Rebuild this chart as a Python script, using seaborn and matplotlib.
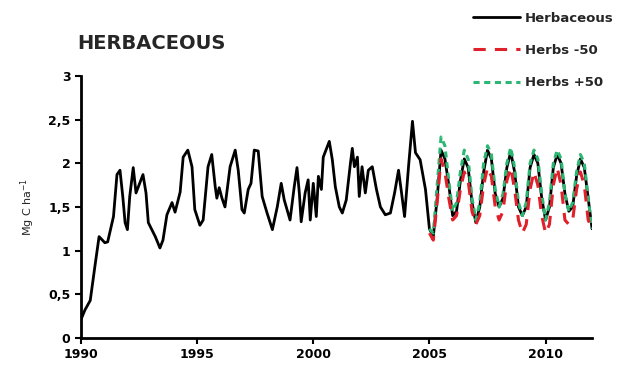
import numpy as np
import pandas as pd
import seaborn as sns
import matplotlib
matplotlib.use('Agg')
import matplotlib.pyplot as plt
from matplotlib.ticker import FuncFormatter

# Herbaceous carbon, traced 1990-2004.9 (year, Mg C/ha)
hist_years = [1990.0, 1990.17, 1990.4, 1990.6, 1990.78, 1991.03, 1991.15, 1991.4, 1991.55,
              1991.68, 1991.8, 1991.9, 1992.0, 1992.1, 1992.25, 1992.37, 1992.54, 1992.67,
              1992.8, 1992.9, 1993.2, 1993.4, 1993.53, 1993.7, 1993.92, 1994.05, 1994.27,
              1994.4, 1994.6, 1994.78, 1994.9, 1995.12, 1995.26, 1995.47, 1995.63, 1995.78,
              1995.85, 1995.95, 1996.07, 1996.2, 1996.42, 1996.64, 1996.77, 1996.93, 1997.03,
              1997.2, 1997.32, 1997.46, 1997.63, 1997.8, 1998.0, 1998.24, 1998.45, 1998.62,
              1998.75, 1999.0, 1999.18, 1999.3, 1999.4, 1999.48, 1999.65, 1999.78, 1999.87,
              2000.0, 2000.13, 2000.22, 2000.35, 2000.43, 2000.69, 2000.82, 2000.95, 2001.12,
              2001.25, 2001.42, 2001.6, 2001.68, 2001.77, 2001.9, 2001.98, 2002.1, 2002.24,
              2002.37, 2002.54, 2002.72, 2002.89, 2003.1, 2003.32, 2003.5, 2003.67, 2003.8,
              2003.93, 2004.1, 2004.27, 2004.4, 2004.6, 2004.83]
hist_vals = [0.21, 0.32, 0.43, 0.82, 1.16, 1.09, 1.10, 1.39, 1.87,
             1.92, 1.62, 1.32, 1.24, 1.62, 1.95, 1.66, 1.78, 1.87,
             1.66, 1.32, 1.16, 1.03, 1.12, 1.41, 1.55, 1.44, 1.67,
             2.07, 2.15, 1.96, 1.47, 1.29, 1.35, 1.96, 2.10, 1.73,
             1.60, 1.72, 1.60, 1.50, 1.96, 2.15, 1.92, 1.47, 1.43,
             1.70, 1.77, 2.15, 2.14, 1.62, 1.44, 1.24, 1.50, 1.77,
             1.58, 1.35, 1.73, 1.95, 1.66, 1.33, 1.66, 1.81, 1.35,
             1.77, 1.39, 1.85, 1.70, 2.07, 2.25, 2.04, 1.73, 1.50,
             1.43, 1.58, 2.00, 2.17, 1.96, 2.07, 1.62, 1.96, 1.66,
             1.92, 1.96, 1.70, 1.50, 1.41, 1.43, 1.66, 1.92, 1.66,
             1.39, 1.96, 2.48, 2.12, 2.04, 1.70]

# Scenario period, bimonthly steps 2005-2012
scen_years = [2005 + i / 6 for i in range(43)]
herb_base = [1.25, 1.16, 1.60, 2.15, 2.05, 1.75,
             1.40, 1.45, 1.80, 2.05, 1.95, 1.55,
             1.32, 1.50, 1.90, 2.15, 2.05, 1.65,
             1.50, 1.60, 1.95, 2.13, 1.90, 1.50,
             1.40, 1.50, 1.95, 2.10, 2.00, 1.60,
             1.35, 1.50, 1.95, 2.10, 2.00, 1.65,
             1.45, 1.50, 1.85, 2.05, 1.95, 1.60,
             1.25]
herb_minus = [1.20, 1.12, 1.55, 2.05, 1.90, 1.60,
              1.35, 1.40, 1.70, 1.90, 1.80, 1.45,
              1.30, 1.40, 1.75, 1.95, 1.85, 1.50,
              1.35, 1.45, 1.80, 1.95, 1.70, 1.35,
              1.20, 1.30, 1.70, 1.90, 1.75, 1.40,
              1.20, 1.30, 1.75, 1.95, 1.75, 1.35,
              1.30, 1.35, 1.70, 1.90, 1.75, 1.35,
              1.25]
herb_plus = [1.25, 1.20, 1.75, 2.30, 2.20, 1.80,
             1.45, 1.55, 1.90, 2.15, 2.05, 1.60,
             1.35, 1.55, 2.00, 2.20, 2.10, 1.70,
             1.50, 1.65, 2.00, 2.18, 1.95, 1.55,
             1.40, 1.55, 2.00, 2.15, 2.05, 1.65,
             1.35, 1.55, 2.00, 2.15, 2.05, 1.65,
             1.45, 1.55, 1.90, 2.10, 2.00, 1.60,
             1.25]

sns.set_style('white')
plt.rcParams['font.family'] = ['DejaVu Sans']

fig = plt.figure(figsize=(6.18, 3.70), dpi=100)
ax = fig.add_axes([0.131, 0.0865, 0.827, 0.7085])

base = pd.DataFrame({'year': hist_years + scen_years, 'val': hist_vals + herb_base})
minus = pd.DataFrame({'year': scen_years, 'val': herb_minus})
plus = pd.DataFrame({'year': scen_years, 'val': herb_plus})

sns.lineplot(data=base, x='year', y='val', ax=ax, color='black', lw=2.0,
             label='Herbaceous', zorder=2)
sns.lineplot(data=minus, x='year', y='val', ax=ax, color='#e0202a', lw=2.2,
             dashes=(4, 3), label='Herbs -50', zorder=4)
sns.lineplot(data=plus, x='year', y='val', ax=ax, color='#2bb673', lw=2.2,
             dashes=(2, 1.5), label='Herbs +50', zorder=3)

ax.set_xlim(1990, 2012)
ax.set_ylim(0, 3)
ax.set_xticks([1990, 1995, 2000, 2005, 2010])
ax.set_yticks(np.arange(0, 3.01, 0.5))
ax.yaxis.set_major_formatter(FuncFormatter(lambda v, p: f'{v:g}'.replace('.', ',')))
for s in ['top', 'right']:
    ax.spines[s].set_visible(False)
for s in ['left', 'bottom']:
    ax.spines[s].set_linewidth(2)
    ax.spines[s].set_color('black')
ax.tick_params(axis='both', direction='out', length=4, width=1.5, colors='black',
               labelsize=9, bottom=True, left=True)
for lab in ax.get_xticklabels() + ax.get_yticklabels():
    lab.set_fontweight('bold')
ax.set_xlabel('')
ax.set_ylabel('Mg C ha$^{-1}$', fontsize=8, labelpad=8)

fig.text(0.125, 0.868, 'HERBACEOUS', fontsize=14, fontweight='bold')

ax.get_legend().remove()
fig.legend(*ax.get_legend_handles_labels(), loc='upper right',
           bbox_to_anchor=(1.012, 1.0), frameon=False, handlelength=3.6,
           handletextpad=0.35, labelspacing=1.45, prop={'weight': 'bold', 'size': 9.5})

fig.savefig('out.png', dpi=100)
